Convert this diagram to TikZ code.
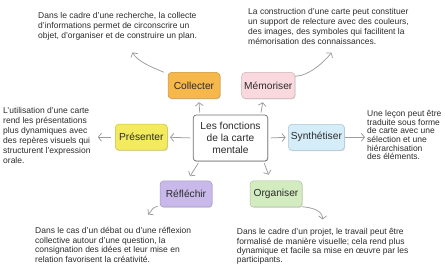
\documentclass[tikz,border=0pt]{standalone}
\usepackage{fontspec}
\setmainfont{Liberation Sans}
\usepackage{xcolor}
\usepackage{tikz}
\usetikzlibrary{positioning,arrows.meta,calc,shadows}
\definecolor{mInk}{HTML}{2B2B2B}
\definecolor{mArrow}{HTML}{9C9C9C}
\definecolor{mFrame}{HTML}{6E6E6E}
\definecolor{mOrange}{HTML}{F6B74B}
\definecolor{mPink}{HTML}{FAD9DE}
\definecolor{mYellow}{HTML}{F3EA5E}
\definecolor{mBlue}{HTML}{D5EDF9}
\definecolor{mLilac}{HTML}{C9B9EA}
\definecolor{mGreen}{HTML}{D3ECBF}
\tikzset{
 fshadow/.style={drop shadow={shadow xshift=0.7pt, shadow yshift=-0.9pt, opacity=0.25, fill=black!60}},
 note/.style={inner sep=0pt, align=left, anchor=north west, text=mInk, font=\fontsize{8.5}{9.8}\selectfont},
 conn/.style={-{Straight Barb[length=3.2pt, width=8pt]}, mArrow, line width=0.75pt}
}
\newcommand{\fnode}[4]{%
 \node[draw=#4!82!black, fill=#4, fshadow, line width=0.5pt, rounded corners=3.5pt, minimum width=52pt, minimum height=26pt, inner xsep=2.5pt, font=\fontsize{10.2}{12}\selectfont, text=mInk] (#2) at (#1) {#3};}

\begin{document}
\begin{tikzpicture}[x=1pt, y=-1pt]
\useasboundingbox (0,0) rectangle (445,272);
\node[draw=mFrame, fill=white, fshadow, line width=0.7pt, rounded corners=3pt, minimum width=74.5pt, minimum height=46pt, align=center, inner sep=1pt, font=\fontsize{10.2}{12.2}\selectfont, text=mInk] (ctr) at (230.5,138) {Les fonctions\\de la carte\\mentale};
\fnode{194,85.5}{col}{Collecter}{mOrange}
\fnode{268.3,85.5}{mem}{Mémoriser}{mPink}
\fnode{141.3,137.2}{pre}{Présenter}{mYellow}
\fnode{316.4,137.3}{syn}{Synthétiser}{mBlue}
\fnode{186,194}{ref}{Réfléchir}{mLilac}
\fnode{276,194}{org}{Organiser}{mGreen}
\node[note] (tcol) at (38,12.5) {Dans le cadre d'une recherche, la collecte\\d'informations permet de circonscrire un\\objet, d'organiser et de construire un plan.};
\node[note] (tmem) at (248,8.5) {La construction d'une carte peut constituer\\un support de relecture avec des couleurs,\\des images, des symboles qui facilitent la\\mémorisation des connaissances.};
\node[note, font=\fontsize{8.5}{10}\selectfont] (tpre) at (3,107.5) {L'utilisation d'une carte\\rend les présentations\\plus dynamiques avec\\des repères visuels qui\\structurent l'expression\\orale.};
\node[note, font=\fontsize{8.5}{8.7}\selectfont] (tsyn) at (367,110) {Une leçon peut être\\traduite sous forme\\de carte avec une\\sélection et une\\hiérarchisation\\des éléments.};
\node[note, font=\fontsize{8.5}{9.5}\selectfont] (tref) at (35,227.5) {Dans le cas d'un débat ou d'une réflexion\\collective autour d'une question, la\\consignation des idées et leur mise en\\relation favorisent la créativité.};
\node[note, font=\fontsize{8.5}{9.2}\selectfont] (torg) at (236.7,228.5) {Dans le cadre d'un projet, le travail peut être\\formalisé de manière visuelle; cela rend plus\\dynamique et facile sa mise en œuvre par les\\participants.};
\draw[conn, shorten <=2pt] ([xshift=7pt]ctr.north west) -- ([xshift=5pt, yshift=-3.5pt]col.south);
\draw[conn, shorten <=2pt] ([xshift=-7.5pt]ctr.north east) -- ([xshift=-5.5pt, yshift=-3.5pt]mem.south);
\draw[conn, shorten <=2.5pt, shorten >=2.5pt] (ctr.west) -- (pre.east);
\draw[conn, shorten <=3pt, shorten >=2.5pt] (ctr.east) -- (syn.west);
\draw[conn, shorten <=2pt] ([xshift=6.5pt]ctr.south west) -- ([xshift=4pt, yshift=4.5pt]ref.north);
\draw[conn, shorten <=2pt] ([xshift=-4.5pt]ctr.south east) -- ([xshift=-7.5pt, yshift=6pt]org.north);
\draw[conn] ([xshift=-4pt]col.north west) .. controls +(-14,-6) and +(5,9) .. ([xshift=15pt, yshift=-12pt]tcol.south);
\draw[conn] ([yshift=-4pt]mem.north east) .. controls +(14,0) and +(-6,8) .. ([xshift=3pt, yshift=-8pt]tmem.south);
\draw[conn, shorten <=4pt, shorten >=7pt] (pre.west) -- (pre.west -| tpre.east);
\draw[conn, shorten >=2pt] (syn.east) -- (syn.east -| tsyn.west);
\draw[conn] ([xshift=-2pt, yshift=1pt]ref.south west) .. controls +(-7,2) and +(5,-5) .. ([xshift=35pt, yshift=13pt]tref.north);
\draw[conn] ([yshift=0.5pt]org.south east) .. controls +(12,1) and +(0,-8) .. ([yshift=9pt]torg.north);
\end{tikzpicture}
\end{document}
